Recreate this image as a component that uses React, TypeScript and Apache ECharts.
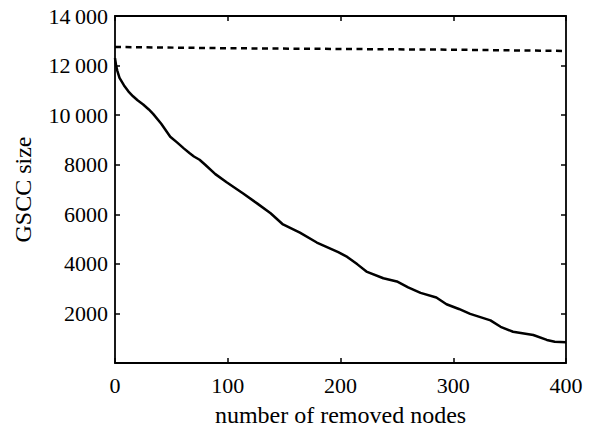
import React, { useEffect, useRef } from "react";
import * as echarts from "echarts";

const solidX = [0, 1, 2, 4, 8, 12, 16, 20, 25, 30, 34, 41, 49, 55, 61, 66, 70, 75, 80, 89, 99, 114, 126, 138, 149, 164, 179, 182, 198, 206, 215, 223, 238, 250, 260, 271, 285, 294, 305, 315, 333, 342, 353, 371, 383, 390, 400];
const solidY = [12300, 12000, 11800, 11500, 11200, 10950, 10760, 10600, 10430, 10230, 10040, 9650, 9130, 8900, 8660, 8470, 8330, 8200, 8000, 7620, 7290, 6830, 6440, 6040, 5590, 5260, 4860, 4800, 4470, 4280, 3980, 3690, 3420, 3290, 3050, 2830, 2640, 2370, 2180, 1980, 1720, 1460, 1260, 1130, 930, 860, 840];
const dashedX = [0, 100, 200, 300, 400];
const dashedY = [12750, 12700, 12670, 12640, 12590];

const xTicks = { min: 0, max: 400, interval: 100 };
const yTicks = { min: 0, max: 14000, interval: 2000 };

const FONT = "Liberation Serif";

function fmtY(v: number): string {
  if (v === 0) return "";
  if (v >= 10000) {
    const th = Math.floor(v / 1000);
    const rest = String(v % 1000).padStart(3, "0");
    return `${th}\u2009${rest}`;
  }
  return String(v);
}

export default function App() {
  const ref = useRef<HTMLDivElement>(null);
  useEffect(() => {
    if (!ref.current) return;
    const chart = echarts.init(ref.current, undefined, { renderer: "svg" });
    const axisLine = { show: true, onZero: false, lineStyle: { color: "#000", width: 1.8 } };
    const tick = { show: true, inside: true, length: 5, lineStyle: { color: "#000", width: 1.5 } };
    chart.setOption({
      animation: false,
      backgroundColor: "#fff",
      grid: { left: 115, right: 30, top: 16, bottom: 60 },
      xAxis: [
        {
          type: "value",
          ...xTicks,
          position: "bottom",
          name: "number of removed nodes",
          nameLocation: "middle",
          nameGap: 40,
          nameTextStyle: { fontFamily: FONT, fontSize: 24, color: "#000" },
          axisLine,
          axisTick: tick,
          splitLine: { show: false },
          axisLabel: { fontFamily: FONT, fontSize: 22, color: "#000", margin: 11 },
        },
        {
          type: "value",
          ...xTicks,
          position: "top",
          axisLine,
          axisTick: tick,
          splitLine: { show: false },
          axisLabel: { show: false },
        },
      ],
      yAxis: [
        {
          type: "value",
          ...yTicks,
          position: "left",
          name: "GSCC size",
          nameLocation: "middle",
          nameGap: 80,
          nameTextStyle: { fontFamily: FONT, fontSize: 24, color: "#000" },
          axisLine,
          axisTick: tick,
          splitLine: { show: false },
          axisLabel: { fontFamily: FONT, fontSize: 22, color: "#000", margin: 7, formatter: fmtY },
        },
        {
          type: "value",
          ...yTicks,
          position: "right",
          axisLine,
          axisTick: tick,
          splitLine: { show: false },
          axisLabel: { show: false },
        },
      ],
      series: [
        {
          type: "line",
          data: solidX.map((x, i) => [x, solidY[i]]),
          showSymbol: false,
          lineStyle: { color: "#000", width: 2.5 },
        },
        {
          type: "line",
          data: dashedX.map((x, i) => [x, dashedY[i]]),
          showSymbol: false,
          lineStyle: { color: "#000", width: 2.5, type: [6, 4.5] },
        },
      ],
    });
    return () => chart.dispose();
  }, []);
  return (
    <div
      ref={ref}
      style={{ position: "fixed", left: 0, top: 0, width: 596, height: 432 }}
    />
  );
}
